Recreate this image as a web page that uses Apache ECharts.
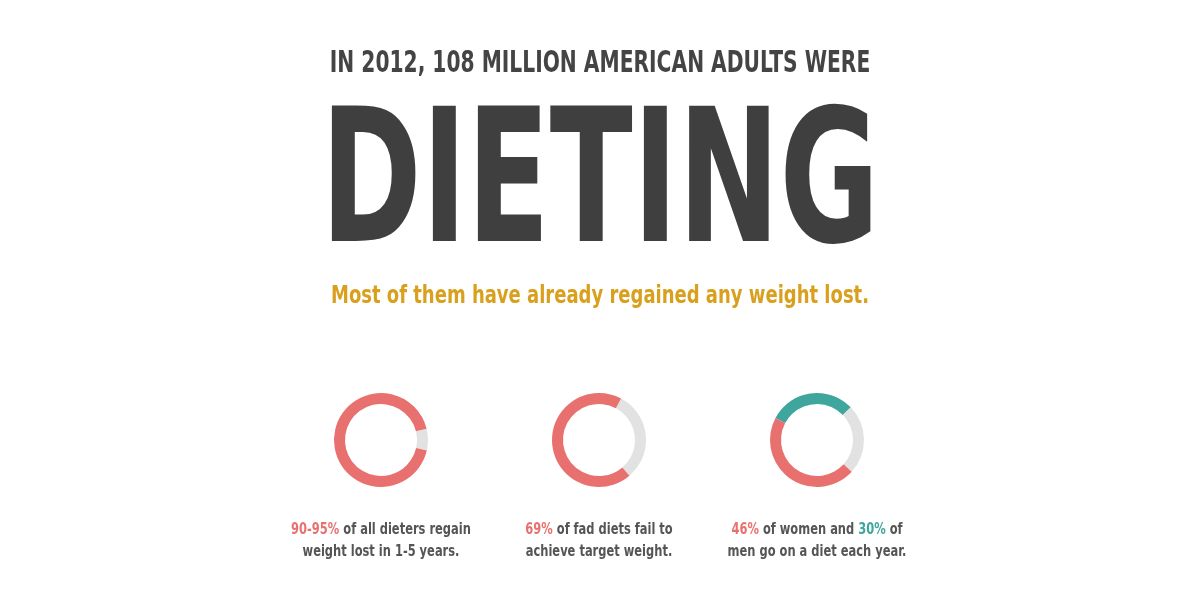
<!DOCTYPE html><html><head><meta charset="utf-8">
<script src="https://cdn.jsdelivr.net/npm/echarts@6/dist/echarts.min.js"></script>
<style>html,body{margin:0;background:#fff}#c{width:1200px;height:606px}</style></head><body><div id="c"></div>
<script>
const headline = 'IN 2012, 108 MILLION AMERICAN ADULTS WERE';
const bigWord = 'DIETING';
const subline = 'Most of them have already regained any weight lost.';
const donut1 = [{name:'rest', value:7.5},{name:'regain', value:92.5}];
const donut2 = [{name:'rest', value:31},{name:'fail', value:69}];
const donut3 = [{name:'men', value:30},{name:'rest', value:24},{name:'women', value:46}];
const captions = [
 ['{p|90-95%} of all dieters regain','weight lost in 1-5 years.'],
 ['{p|69%} of fad diets fail to','achieve target weight.'],
 ['{p|46%} of women and {t|30%} of','men go on a diet each year.']
];
const PINK='#E8716F', GREY='#E2E2E2', TEAL='#3FA69D', DARK='#444';
const F="'DejaVu Sans Condensed','DejaVu Sans',sans-serif";
const colorFor = n => n==='rest'?GREY:(n==='men'?TEAL:PINK);
function donut(data,cx,start){return {type:'pie',center:[cx,440],radius:[36,47],startAngle:start,clockwise:true,
 label:{show:false},silent:true,data:data.map(d=>({...d,itemStyle:{color:colorFor(d.name)}}))};}
const xs=[381,599,817];
const chart=echarts.init(document.getElementById('c'));
const graphic=[
 {type:'text',x:600,y:49,scaleX:0.75,style:{text:headline,align:'center',verticalAlign:'top',font:"bold 30px "+F,fill:DARK}},
 {type:'text',x:600,y:100,scaleX:0.73,style:{text:bigWord,align:'center',verticalAlign:'top',font:"bold 185px "+F,fill:'#3f3f3f'}},
 {type:'text',x:600,y:284,scaleX:0.8,style:{text:subline,align:'center',verticalAlign:'top',font:"bold 25px "+F,fill:'#D9A01E'}}
];
captions.forEach((c,i)=>{graphic.push({type:'text',x:xs[i],y:519,scaleX:0.85,style:{text:c.join('\n'),align:'center',
 font:"bold 15px "+F,fill:'#555',lineHeight:22,rich:{p:{fill:PINK,font:"bold 15px "+F},t:{fill:TEAL,font:"bold 15px "+F}}}});});
chart.setOption({animation:false,series:[donut(donut1,xs[0],14),donut(donut2,xs[1],62),donut(donut3,xs[2],152)],graphic});
</script></body></html>
